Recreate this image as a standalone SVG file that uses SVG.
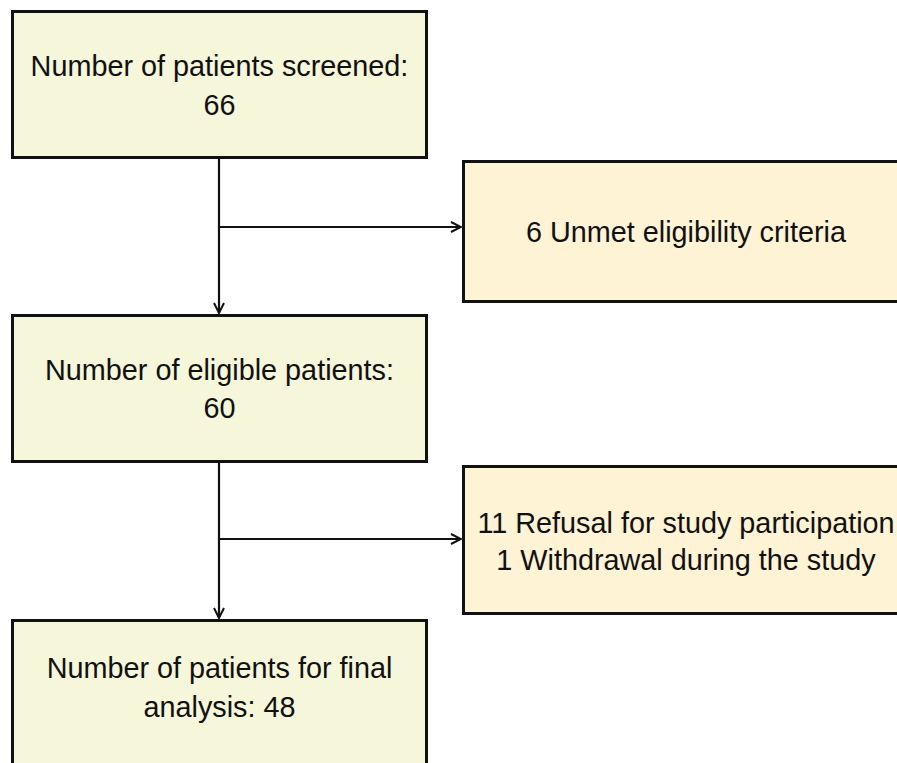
<svg xmlns="http://www.w3.org/2000/svg" width="897" height="763" viewBox="0 0 897 763">
<style>
.main{fill:#f5f6da;stroke:#111;stroke-width:3}
.side{fill:#fff3d6;stroke:#111;stroke-width:3}
.t{font-family:"Liberation Sans",Arial,sans-serif;font-size:28.8px;fill:#111;text-anchor:middle}
.c{fill:none;stroke:#111;stroke-width:2.2}
</style>
<defs>
<marker id="ah" viewBox="0 0 12 12" refX="11" refY="6" markerWidth="12" markerHeight="12" markerUnits="userSpaceOnUse" orient="auto">
<path d="M1,1 L11,6 L1,11" fill="none" stroke="#111" stroke-width="2"/>
</marker>
</defs>
<g id="connectors">
<line class="c" x1="219" y1="159" x2="219" y2="313" marker-end="url(#ah)"/>
<line class="c" x1="219" y1="227" x2="461" y2="227" marker-end="url(#ah)"/>
<line class="c" x1="219" y1="463" x2="219" y2="618" marker-end="url(#ah)"/>
<line class="c" x1="219" y1="539" x2="461" y2="539" marker-end="url(#ah)"/>
</g>
<g id="screened">
<rect class="main" x="12.5" y="11.5" width="414" height="146"/>
<text class="t" x="219.5" y="76">Number of patients screened:</text>
<text class="t" x="219.5" y="115">66</text>
</g>
<g id="unmet">
<rect class="side" x="463.5" y="161.5" width="440" height="140"/>
<text class="t" x="686" y="242">6 Unmet eligibility criteria</text>
</g>
<g id="eligible">
<rect class="main" x="12.5" y="315.5" width="414" height="146"/>
<text class="t" x="219.5" y="380">Number of eligible patients:</text>
<text class="t" x="219.5" y="418">60</text>
</g>
<g id="excluded">
<rect class="side" x="463.5" y="466.5" width="440" height="147"/>
<text class="t" x="686" y="533">11 Refusal for study participation</text>
<text class="t" x="686" y="570">1 Withdrawal during the study</text>
</g>
<g id="final">
<rect class="main" x="12.5" y="620.5" width="414" height="150"/>
<text class="t" x="219.5" y="678">Number of patients for final</text>
<text class="t" x="219.5" y="717">analysis: 48</text>
</g>
</svg>
